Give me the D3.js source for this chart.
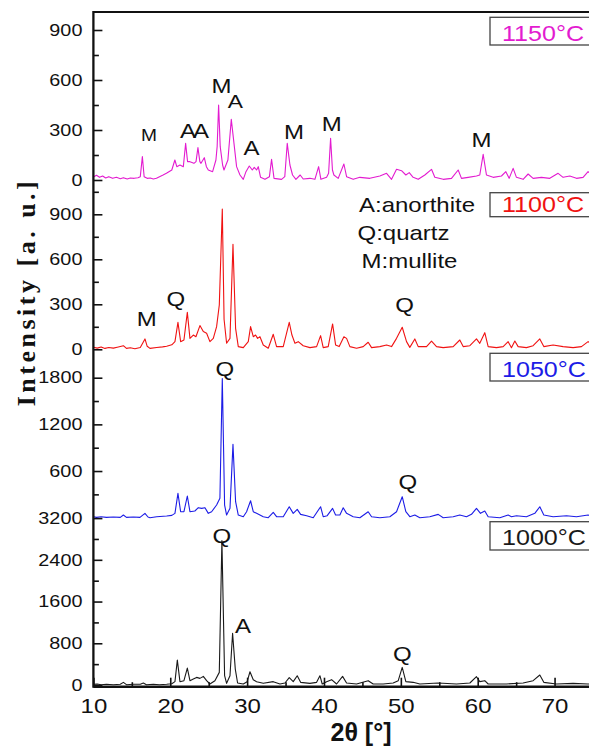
<!DOCTYPE html>
<html lang="en">
<head>
<meta charset="UTF-8">
<title>XRD patterns</title>
<script src="https://d3js.org/d3.v7.min.js"></script>
<style>
    body { margin: 0; background: #fff; }
    svg { display: block; }
    text { font-family: "Liberation Sans", Arial, sans-serif; }
</style>
</head>
<body>
<svg id="chart" width="589" height="753"></svg>
<script>
// ---- data (2θ in degrees, intensity in a.u.) ----
const xTicks = [10, 20, 30, 40, 50, 60, 70];
const xMinor = [15, 25, 35, 45, 55, 65, 75];

const temps = ["1150°C", "1100°C", "1050°C", "1000°C"];
const colors = ["#e31bd0", "#f01212", "#1c1ce6", "#1a1a1a"];

const yMajor = [[0, 300, 600, 900], [0, 300, 600, 900], [600, 1200, 1800], [0, 800, 1600, 2400, 3200]];
const yMinor = [[150, 450, 750], [150, 450, 750, 1050], [300, 900, 1500], [400, 1200, 2000, 2800]];

const s1150 = [[10.0,18],[10.4,28],[10.8,16],[11.2,24],[11.6,12],[12.0,20],[12.5,10],[13.0,16],[13.5,8],[13.9,14],[14.4,6],[14.8,12],[15.3,10],[15.8,14],[16.1,20],[16.37,140],[16.6,20],[17.0,10],[17.4,12],[17.8,6],[18.2,10],[18.6,20],[19.0,28],[19.5,40],[20.2,60],[20.6,120],[20.85,80],[21.26,90],[21.7,80],[22.0,220],[22.25,110],[22.56,110],[23.08,100],[23.35,110],[23.6,194],[23.85,110],[24.0,100],[24.43,134],[24.7,80],[24.95,60],[25.51,50],[25.94,120],[26.1,200],[26.29,450],[26.5,200],[26.81,90],[26.99,60],[27.5,120],[27.94,364],[28.29,220],[28.63,80],[29.07,30],[29.5,4],[29.85,50],[30.28,84],[30.67,60],[30.93,76],[31.23,60],[31.45,80],[31.75,16],[32.32,4],[32.9,20],[33.18,124],[33.5,10],[34.48,4],[34.9,20],[35.22,220],[35.57,90],[35.91,30],[36.35,4],[36.9,30],[37.3,6],[38.17,10],[38.82,4],[39.3,80],[39.6,4],[40.34,16],[40.6,40],[40.86,250],[41.1,60],[41.29,30],[41.85,10],[42.59,96],[42.94,20],[43.8,4],[44.67,16],[45.97,10],[47.27,24],[48.14,40],[48.79,4],[49.44,64],[50.09,56],[50.65,30],[51.09,44],[51.6,16],[52.26,4],[53.12,30],[53.99,64],[54.42,16],[55.51,4],[56.59,10],[57.46,60],[57.89,10],[58.76,16],[59.84,24],[60.27,30],[60.71,154],[61.14,30],[62.01,16],[63.09,24],[63.66,50],[64.09,10],[64.61,70],[65.04,16],[65.91,4],[66.56,36],[67.21,10],[68.29,16],[69.38,10],[70.46,40],[71.11,16],[71.98,24],[72.85,10],[73.71,16],[74.36,50],[75,30]];

const s1100 = [[10,14],[10.5,8],[11,16],[11.5,6],[12,12],[12.6,8],[13.1,14],[13.9,24],[14.3,6],[14.8,10],[15.4,4],[16.1,12],[16.71,69],[17.0,20],[17.36,6],[18.23,12],[19.0,16],[19.53,20],[20.2,30],[20.61,51],[21.0,180],[21.35,51],[21.78,62],[22.22,246],[22.56,73],[23.0,95],[23.34,84],[23.86,158],[24.3,118],[24.73,107],[25.16,51],[25.6,73],[26.03,151],[26.38,295],[26.77,935],[27.0,200],[27.33,40],[27.77,73],[28.16,700],[28.5,140],[28.85,18],[29.5,11],[30.15,51],[30.45,151],[30.8,84],[31.1,95],[31.36,73],[31.67,84],[32.1,29],[32.75,7],[33.4,100],[33.83,18],[34.7,18],[35.48,180],[35.83,95],[36.22,40],[36.65,51],[37.3,24],[38.17,11],[39.04,18],[39.56,91],[39.9,11],[40.55,18],[41.12,169],[41.51,29],[41.98,18],[42.59,84],[42.94,73],[43.37,18],[44.24,7],[45.1,18],[45.75,47],[46.19,11],[47.27,18],[48.14,29],[48.79,18],[49.44,73],[50.18,147],[50.74,51],[51.17,13],[51.82,69],[52.26,18],[53.34,18],[53.99,55],[54.64,18],[55.51,11],[56.81,18],[57.67,62],[58.11,18],[58.98,24],[59.84,69],[60.27,40],[60.92,111],[61.36,18],[62.44,11],[63.31,18],[63.96,51],[64.39,11],[64.83,55],[65.26,18],[66.34,11],[67.21,24],[68.08,69],[68.6,18],[69.81,29],[71.11,18],[72.41,11],[73.5,18],[74.36,51],[75,30]];

const s1050 = [[10,13],[10.4,4],[11,13],[11.7,4],[12.6,9],[13.5,4],[13.9,34],[14.3,4],[15.2,9],[16.06,4],[16.71,56],[17.1,9],[17.36,0],[18.23,13],[19.53,21],[20.2,30],[20.61,56],[21.0,313],[21.35,77],[21.78,77],[22.22,279],[22.56,77],[23.2,86],[23.65,129],[24.08,120],[24.51,129],[24.95,56],[25.38,77],[26.03,163],[26.46,250],[26.77,1790],[27.07,163],[27.33,34],[27.77,120],[28.16,943],[28.5,206],[28.85,34],[29.5,13],[29.93,77],[30.45,218],[30.8,77],[31.23,56],[32.1,13],[32.75,0],[33.4,69],[33.83,13],[34.7,13],[35.48,141],[36.0,56],[36.52,107],[36.96,43],[37.74,26],[38.6,0],[39.56,141],[39.9,13],[40.42,26],[41.12,120],[41.51,34],[42.07,34],[42.5,128],[42.94,56],[43.8,13],[44.67,0],[45.75,77],[46.19,13],[47.27,0],[48.57,13],[49.44,77],[50.18,270],[50.65,77],[51.17,13],[51.82,34],[52.47,0],[53.77,13],[54.86,43],[55.51,0],[56.81,13],[57.67,34],[58.54,13],[59.19,43],[59.84,120],[60.36,56],[60.92,86],[61.36,13],[62.88,0],[63.96,34],[64.39,13],[65.04,26],[66.34,13],[67.43,56],[68.08,141],[68.6,34],[69.81,13],[71.55,26],[72.85,13],[74.36,34],[75,20]];

const s1000 = [[10,13],[10.5,19],[11,6],[11.7,13],[12.6,6],[13.5,13],[13.9,51],[14.3,6],[15.2,13],[16.1,13],[16.5,38],[16.9,6],[17.8,13],[18.6,6],[19.53,13],[20.2,25],[20.61,64],[20.92,477],[21.26,64],[21.78,83],[22.22,324],[22.56,83],[23.0,114],[23.43,146],[23.86,127],[24.3,165],[24.73,83],[25.16,19],[25.81,83],[26.38,242],[26.72,2770],[27.07,178],[27.33,32],[27.77,178],[28.11,992],[28.46,305],[28.76,38],[29.5,19],[30.0,64],[30.37,254],[30.8,102],[31.23,64],[32.1,32],[33.4,64],[34.27,19],[34.92,38],[35.48,140],[36.0,64],[36.52,178],[36.96,51],[38.17,32],[39.04,51],[39.47,178],[39.77,19],[40.34,64],[40.99,102],[41.64,19],[42.42,165],[42.94,38],[44.24,19],[45.75,83],[46.4,19],[47.7,19],[49.0,38],[49.66,83],[50.18,337],[50.65,64],[51.6,51],[52.47,19],[54.86,38],[57.24,19],[58.98,38],[59.84,159],[60.27,64],[60.92,83],[61.36,19],[63.74,19],[65.91,38],[67.21,83],[68.08,191],[68.6,51],[70.24,19],[72.41,32],[74.36,19],[75,19]];

const series = [s1150, s1100, s1050, s1000];

// peak annotations: [label, 2θ, intensity, font size]
const peaks1150 = [["M",17.23,236,16],["AA",22.95,254,20],["M",26.68,524,20],["A",28.48,432,19],["A",30.56,150,20],["M",36.09,246,20],["M",41.0,296,20],["M",60.5,196,20]];
const peaks1100 = [["M",16.93,157,20],["Q",20.74,289,20],["Q",50.48,251,20]];
const peaks1050 = [["Q",27.11,1828,20],["Q",50.91,369,20]];
const peaks1000 = [["Q",26.72,2723,20],["A",29.45,1003,20],["Q",50.19,466,20]];
const peaks = [peaks1150, peaks1100, peaks1050, peaks1000];

const phases = ["A:anorthite", "Q:quartz", "M:mullite"];

// ---- layout ----
const svg = d3.select("#chart");
const plotL = 93.4, plotR = 593, plotT = 12, plotB = 686.7;
const sx = 1.2; // horizontal text stretch of the original figure

const x = d3.scaleLinear().domain([10, 75]).range([plotL, plotR]);

// each panel: domain top value and pixel range of its 0..top
const panels = [
    {top: 900, y0: 180, y1: 30, box: [17.3, 27.7, 40.5]},
    {top: 900, y0: 349.3, y1: 214.3, box: [192.7, 24, 212]},
    {top: 1800, y0: 517.7, y1: 377.7, box: [353.3, 27.7, 376.7]},
    {top: 3200, y0: 685, y1: 518.1, box: [521.7, 28.3, 545]}
];

const font = "'Liberation Sans', Arial, sans-serif";

panels.forEach((p, i) => {
    const y = d3.scaleLinear().domain([0, p.top]).range([p.y0, p.y1]);

    // trace
    svg.append("path")
        .datum(series[i])
        .attr("fill", "none")
        .attr("stroke", colors[i])
        .attr("stroke-width", 1.1)
        .attr("stroke-linejoin", "round")
        .attr("d", d3.line().x(d => x(d[0])).y(d => y(d[1])));

    // left axis, ticks pointing inward
    const gMaj = svg.append("g")
        .attr("transform", `translate(${plotL},0)`)
        .call(d3.axisLeft(y).tickValues(yMajor[i]).tickSize(-9).tickPadding(0).tickFormat(d3.format("d")));
    gMaj.select(".domain").remove();
    gMaj.selectAll("line").attr("stroke", "#111").attr("stroke-width", 1.6);
    gMaj.selectAll("text")
        .attr("x", null)
        .attr("transform", `translate(-11,0) scale(${sx},1)`)
        .attr("font-size", 16.5)
        .attr("font-family", font)
        .attr("fill", "#111");

    const gMin = svg.append("g")
        .attr("transform", `translate(${plotL},0)`)
        .call(d3.axisLeft(y).tickValues(yMinor[i]).tickSize(-5.5).tickFormat(""));
    gMin.select(".domain").remove();
    gMin.selectAll("line").attr("stroke", "#111").attr("stroke-width", 1.6);

    // peak labels
    peaks[i].forEach(d => {
        svg.append("text")
            .attr("transform", `translate(${x(d[1])},${y(d[2])}) scale(${sx},1)`)
            .attr("text-anchor", "middle")
            .attr("font-size", d[3])
            .attr("letter-spacing", d[0].length > 1 ? -2.5 : 0)
            .attr("fill", "#111")
            .text(d[0]);
    });

    // temperature box
    svg.append("rect")
        .attr("x", 490).attr("y", p.box[0])
        .attr("width", 120).attr("height", p.box[1])
        .attr("fill", "#fff")
        .attr("stroke", "#444").attr("stroke-width", 1.3);
    svg.append("text")
        .attr("transform", `translate(502,${p.box[2]}) scale(1.14,1)`)
        .attr("font-size", 22)
        .attr("fill", colors[i])
        .text(temps[i]);
});

// phase legend
[[359, 211.5], [357.5, 239.5], [361.5, 267.5]].forEach((pos, k) => {
    svg.append("text")
        .attr("transform", `translate(${pos[0]},${pos[1]}) scale(${sx},1)`)
        .attr("font-size", 20)
        .attr("fill", "#111")
        .text(phases[k]);
});

// bottom axis
const gx = svg.append("g")
    .attr("transform", `translate(0,${plotB})`)
    .call(d3.axisBottom(x).tickValues(xTicks).tickSize(-9).tickPadding(12));
gx.select(".domain").remove();
gx.selectAll("line").attr("stroke", "#111").attr("stroke-width", 1.6);
gx.selectAll("text")
    .attr("font-size", 20)
    .attr("font-family", font)
    .attr("fill", "#111")
    .attr("transform", `scale(${sx},1)`);

const gxm = svg.append("g")
    .attr("transform", `translate(0,${plotB})`)
    .call(d3.axisBottom(x).tickValues(xMinor).tickSize(-4.5).tickFormat(""));
gxm.select(".domain").remove();
gxm.selectAll("line").attr("stroke", "#111").attr("stroke-width", 1.6);

// frame lines
svg.append("line").attr("x1", plotL).attr("x2", plotL).attr("y1", plotT - 1).attr("y2", plotB + 1)
    .attr("stroke", "#111").attr("stroke-width", 2.3);
svg.append("line").attr("x1", plotL).attr("x2", 589).attr("y1", plotT).attr("y2", plotT)
    .attr("stroke", "#111").attr("stroke-width", 2);
svg.append("line").attr("x1", plotL).attr("x2", 589).attr("y1", plotB).attr("y2", plotB)
    .attr("stroke", "#111").attr("stroke-width", 2.6);

// axis titles
svg.append("text")
    .attr("transform", `translate(361,741)`)
    .attr("text-anchor", "middle")
    .attr("font-size", 25)
    .attr("font-weight", "bold")
    .attr("fill", "#111")
    .text("2θ [°]");

svg.append("text")
    .attr("transform", `translate(35,292) rotate(-90)`)
    .attr("text-anchor", "middle")
    .style("font-family", "'Liberation Serif', 'DejaVu Serif', serif")
    .attr("font-size", 26)
    .attr("font-weight", "bold")
    .attr("letter-spacing", 3.5)
    .attr("fill", "#111")
    .text("Intensity [a. u.]");
</script>
</body>
</html>
